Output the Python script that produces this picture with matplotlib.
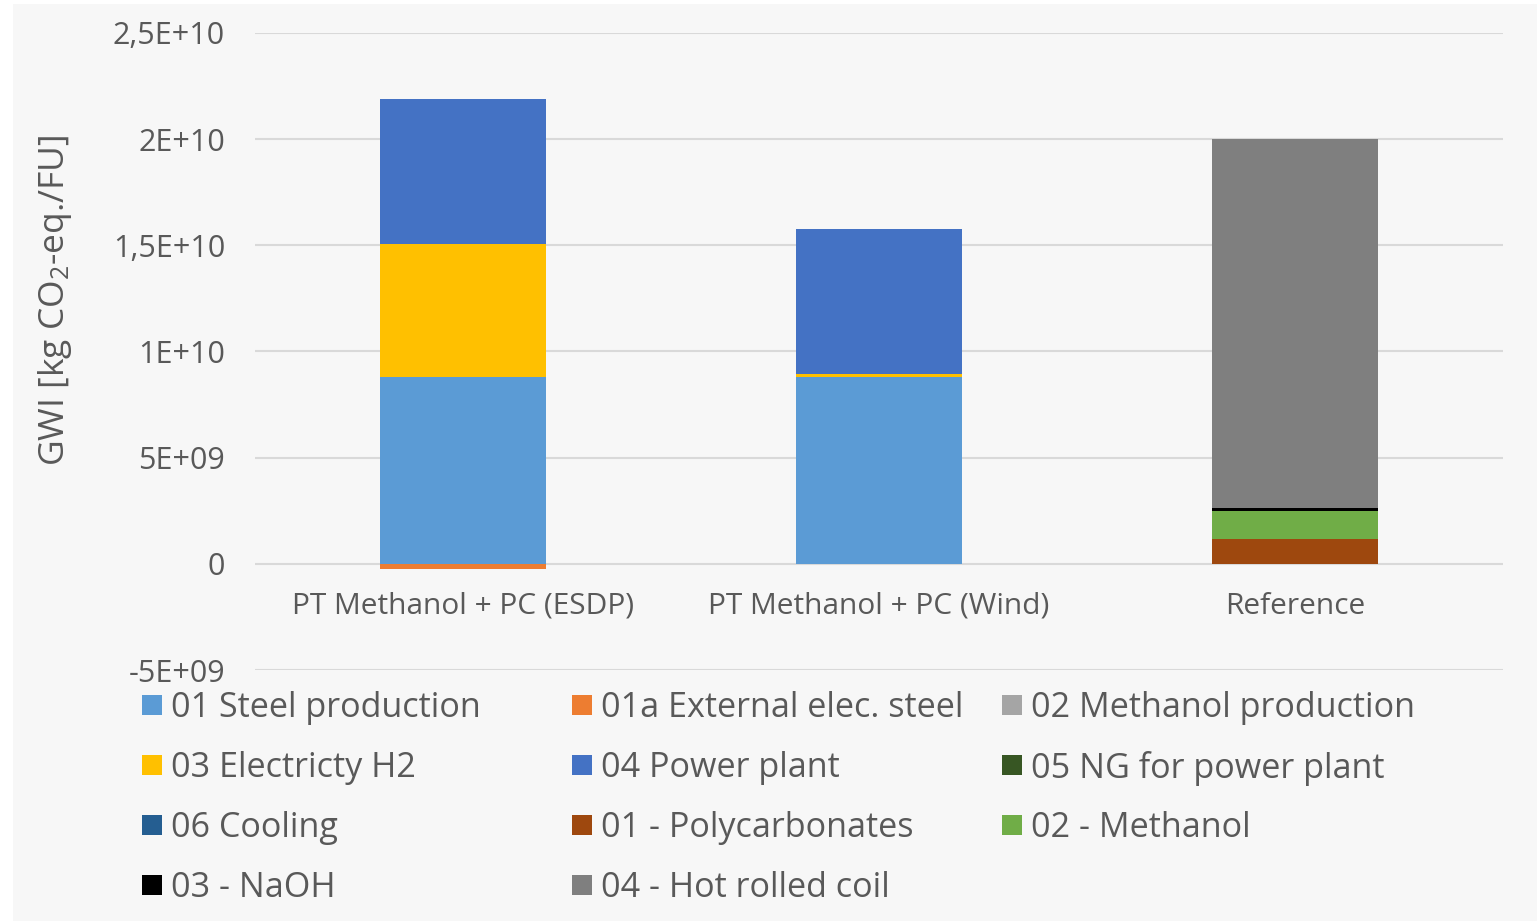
import matplotlib
matplotlib.use("Agg")
import matplotlib.pyplot as plt
from matplotlib.patches import Rectangle
import numpy as np

plt.rcParams['font.family'] = ['Open Sans', 'DejaVu Sans']
plt.rcParams['mathtext.default'] = 'regular'

# data
categories = ['PT Methanol + PC (ESDP)', 'PT Methanol + PC (Wind)', 'Reference']
series_names = ['01 Steel production', '01a External elec. steel', '02 Methanol production',
                '03 Electricty H2', '04 Power plant', '05 NG for power plant',
                '06 Cooling', '01 - Polycarbonates', '02 - Methanol',
                '03 - NaOH', '04 - Hot rolled coil']
series_colors = ['#5B9BD5', '#ED7D31', '#A5A5A5',
                 '#FFC000', '#4472C4', '#375623',
                 '#255E91', '#9E480E', '#70AD47',
                 '#000000', '#7F7F7F']
steel = [8.80e9, 8.82e9, 0]
ext_elec = [-2.5e8, 0, 0]
meoh_prod = [0, 0, 0]
elec_h2 = [6.27e9, 1.3e8, 0]
power_plant = [6.82e9, 6.82e9, 0]
ng_power = [0, 0, 0]
cooling = [0, 0, 0]
polycarb = [0, 0, 1.18e9]
methanol = [0, 0, 1.32e9]
naoh = [0, 0, 1.4e8]
hot_coil = [0, 0, 1.737e10]
series_values = [steel, ext_elec, meoh_prod, elec_h2, power_plant, ng_power,
                 cooling, polycarb, methanol, naoh, hot_coil]

yticks = [-5e9, 0, 5e9, 1e10, 1.5e10, 2e10, 2.5e10]
ytick_labels = ['-5E+09', '0', '5E+09', '1E+10', '1,5E+10', '2E+10', '2,5E+10']

W, H = 1537, 921
fig = plt.figure(figsize=(W / 100, H / 100), dpi=100)
fig.patch.set_facecolor('white')
fig.patches.append(Rectangle((13 / W, 0), 1 - 13 / W, 1 - 4 / H, transform=fig.transFigure,
                             facecolor='#F7F7F7', edgecolor='none', zorder=-10))

ax = fig.add_axes([255 / W, 1 - 670 / H, (1503 - 255) / W, (670 - 33) / H])
ax.set_facecolor('none')

x = np.arange(len(categories))
pos_bottom = np.zeros(len(categories))
neg_bottom = np.zeros(len(categories))
for vals, col in zip(series_values, series_colors):
    v = np.array(vals, dtype=float)
    bottoms = np.where(v >= 0, pos_bottom, neg_bottom)
    ax.bar(x, v, 0.4, bottom=bottoms, color=col, linewidth=0, zorder=3)
    pos_bottom += np.where(v > 0, v, 0)
    neg_bottom += np.where(v < 0, v, 0)

ax.set_xlim(-0.5, len(categories) - 0.5)
ax.set_ylim(-5e9, 2.5e10)
ax.set_yticks(yticks)
ax.set_yticklabels(ytick_labels)
ax.set_xticks([])
ax.tick_params(axis='y', length=0, pad=21.6, labelsize=22, labelcolor='#595959')
for s in ax.spines.values():
    s.set_visible(False)
ax.grid(axis='y', color='#D9D9D9', linewidth=1.5, zorder=0)

for i, c in enumerate(categories):
    ax.annotate(c, xy=(i, 0), xytext=(0, -30.5), textcoords='offset points',
                ha='center', va='center', fontsize=21.5, color='#595959')

fig.text(55 / W, 1 - 300 / H, r'GWI [kg CO$_2$-eq./FU]', rotation=90,
         ha='center', va='center', fontsize=25.5, color='#595959')

# legend, row-wise like the original
col_x = [142, 572, 1002]
row_y = [705, 765, 825, 885]
for k, (name, col) in enumerate(zip(series_names, series_colors)):
    r, c = divmod(k, 3)
    lx, ly = col_x[c], row_y[r]
    fig.patches.append(Rectangle((lx / W, 1 - (ly + 10) / H), 20 / W, 20 / H,
                                 transform=fig.transFigure, facecolor=col, edgecolor='none'))
    fig.text((lx + 29) / W, 1 - (ly + 3) / H, name, ha='left', va='center',
             fontsize=24.6, color='#595959')

fig.savefig('out.png', dpi=100)
